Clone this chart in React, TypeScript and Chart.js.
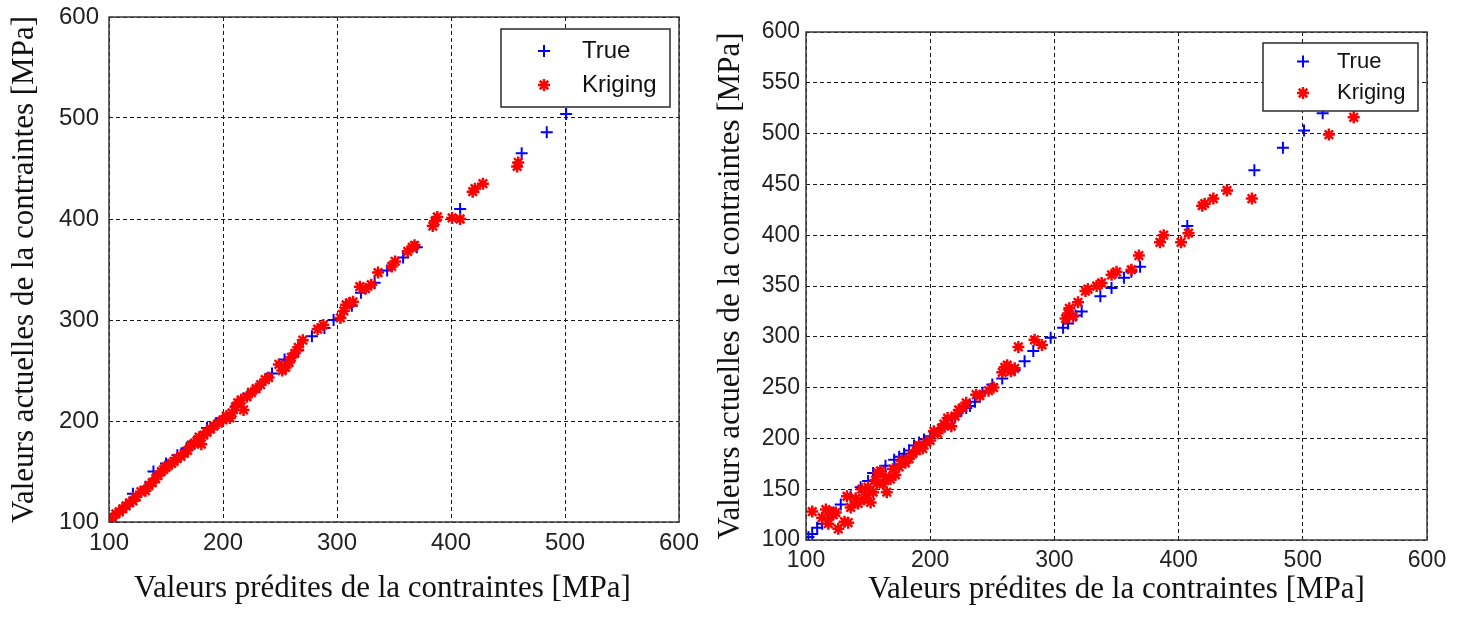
import React, { useEffect, useRef } from "react";
import { Chart, registerables } from "chart.js";

Chart.register(...registerables);

// ---------- tick labels / texts ----------
const xTicks = [100, 200, 300, 400, 500, 600];
const leftYTicks = [100, 200, 300, 400, 500, 600];
const rightYTicks = [100, 150, 200, 250, 300, 350, 400, 450, 500, 550, 600];
const seriesLabels = ["True", "Kriging"];
const xTitle = "Valeurs prédites de la contraintes [MPa]";
const yTitle = "Valeurs actuelles de la contraintes [MPa]";

// ---------- left chart data ----------
const leftTrueX = [100, 106, 121, 132, 139, 150, 160, 168, 175, 186, 194, 200, 212, 222, 231, 243, 254, 266, 278, 289, 297, 313, 321, 333, 344, 358, 370, 408, 462, 484, 501];
const leftTrueY = [103, 108, 128, 135, 150, 158, 166, 173, 180, 193, 198, 202, 215, 227, 234, 247, 261, 270, 284, 292, 300, 314, 327, 337, 349, 362, 372, 410, 465, 486, 504];

const leftKrigX = [103, 106, 109, 112, 115, 118, 121, 124, 128, 132, 135, 138, 141, 143, 146, 148, 150, 152, 155, 157, 160, 163, 166, 169, 172, 175, 177, 179, 181, 183, 186, 189, 192, 196, 200, 203, 206, 208, 211, 213, 216, 218, 221, 225, 229, 233, 237, 240, 249, 252, 255, 258, 260, 263, 266, 270, 283, 288, 303, 306, 308, 311, 314, 320, 325, 330, 336, 348, 351, 362, 366, 368, 384, 386, 388, 401, 408, 419, 421, 428, 458, 459];
const leftKrigY = [104, 108, 110, 113, 116, 119, 121, 125, 130, 131, 136, 139, 143, 146, 150, 152, 154, 156, 158, 160, 163, 165, 168, 171, 176, 178, 180, 184, 177, 186, 189, 192, 195, 198, 201, 205, 203, 208, 214, 218, 221, 211, 224, 228, 232, 236, 241, 243, 256, 250, 253, 258, 263, 267, 273, 280, 291, 295, 302, 309, 315, 317, 318, 333, 331, 335, 347, 353, 358, 368, 372, 374, 393, 398, 402, 401, 400, 427, 430, 435, 452, 456];

// ---------- right chart data ----------
const rightTrueX = [102, 105, 109, 113, 118, 122, 128, 136, 144, 150, 154, 160, 164, 171, 175, 179, 183, 187, 191, 195, 200, 207, 213, 218, 225, 229, 232, 236, 242, 250, 258, 268, 276, 283, 297, 307, 311, 317, 322, 337, 346, 356, 362, 369, 407, 461, 484, 501, 516];
const rightTrueY = [103, 106, 112, 116, 121, 127, 135, 143, 152, 158, 166, 168, 173, 179, 182, 185, 188, 193, 196, 199, 202, 208, 214, 220, 227, 230, 232, 236, 245, 253, 259, 267, 276, 286, 299, 309, 313, 321, 325, 340, 348, 358, 364, 369, 409, 464, 486, 503, 520];

const rightKrigX = [105, 113, 116, 118, 120, 122, 124, 126, 131, 133, 134, 136, 140, 142, 145, 147, 149, 150, 152, 154, 156, 157, 158, 160, 162, 164, 165, 168, 170, 172, 175, 177, 180, 183, 186, 189, 191, 194, 197, 200, 203, 206, 209, 211, 214, 217, 220, 223, 226, 229, 237, 240, 247, 251, 258, 260, 262, 265, 268, 271, 284, 290, 309, 311, 312, 315, 319, 325, 327, 334, 338, 346, 350, 362, 368, 385, 388, 402, 408, 419, 421, 428, 439, 459, 521, 541];
const rightKrigY = [128, 122, 130, 116, 127, 125, 127, 111, 118, 143, 117, 132, 141, 136, 150, 140, 145, 152, 137, 147, 159, 156, 166, 168, 155, 162, 147, 160, 170, 164, 172, 178, 176, 180, 185, 188, 193, 190, 196, 198, 207, 205, 210, 214, 220, 212, 222, 228, 230, 235, 243, 242, 247, 250, 265, 270, 272, 266, 269, 290, 297, 292, 318, 323, 328, 320, 334, 345, 347, 350, 353, 361, 364, 366, 380, 393, 400, 393, 402, 429, 431, 436, 444, 436, 499, 516];

const pairs = (xs: number[], ys: number[]) => xs.map((x, i) => ({ x, y: ys[i] }));

type Geo = {
  width: number;
  height: number;
  left: number;
  padTop: number;
  padRight: number;
  yWidth: number;
  xHeight: number;
  tickSize: number;
  yTickPad: number;
  xTickPad: number;
  yTitlePadTop: number;
  xTitlePadBottom: number;
  xTitleTrail: string;
  legend: { x0: number; y0: number; x1: number; y1: number; mx: number; tx: number; rows: number[]; font: number };
};

const leftGeo: Geo = {
  width: 700, height: 619, left: 0, padTop: 17, padRight: 21, yWidth: 109, xHeight: 97,
  tickSize: 24, yTickPad: 10, xTickPad: 7, yTitlePadTop: 6, xTitlePadBottom: 12, xTitleTrail: "\u00a0\u00a0\u00a0",
  legend: { x0: 501, y0: 29, x1: 670, y1: 107, mx: 544, tx: 582, rows: [51, 85], font: 24 },
};
const rightGeo: Geo = {
  width: 764, height: 619, left: 700, padTop: 32, padRight: 37, yWidth: 106, xHeight: 79,
  tickSize: 23, yTickPad: 6, xTickPad: 7, yTitlePadTop: 12, xTitlePadBottom: 11, xTitleTrail: "",
  legend: { x0: 563, y0: 43, x1: 718, y1: 111, mx: 603, tx: 637, rows: [61.5, 93], font: 22 },
};

const drawMarker = (ctx: CanvasRenderingContext2D, style: string, x: number, y: number, r: number) => {
  ctx.beginPath();
  ctx.moveTo(x - r, y);
  ctx.lineTo(x + r, y);
  ctx.moveTo(x, y - r);
  ctx.lineTo(x, y + r);
  if (style === "star") {
    const d = r * Math.SQRT1_2;
    ctx.moveTo(x - d, y - d);
    ctx.lineTo(x + d, y + d);
    ctx.moveTo(x - d, y + d);
    ctx.lineTo(x + d, y - d);
  }
  ctx.stroke();
};

const boxLegendPlugin = {
  id: "boxLegend",
  afterDraw(chart: any, _args: any, opts: any) {
    const ctx: CanvasRenderingContext2D = chart.ctx;
    const { left, right, top, bottom } = chart.chartArea;
    ctx.save();
    ctx.strokeStyle = "#3a3a3a";
    ctx.lineWidth = 1.5;
    ctx.setLineDash([]);
    ctx.strokeRect(left, top, right - left, bottom - top);

    const lg = opts.legend;
    if (lg) {
      ctx.fillStyle = "#ffffff";
      ctx.fillRect(lg.x0, lg.y0, lg.x1 - lg.x0, lg.y1 - lg.y0);
      ctx.strokeStyle = "#2a2a2a";
      ctx.lineWidth = 1.5;
      ctx.strokeRect(lg.x0, lg.y0, lg.x1 - lg.x0, lg.y1 - lg.y0);
      chart.data.datasets.forEach((ds: any, i: number) => {
        const y = lg.rows[i];
        ctx.strokeStyle = ds.borderColor;
        ctx.lineWidth = ds.pointBorderWidth;
        drawMarker(ctx, ds.pointStyle, lg.mx, y, 6);
        ctx.fillStyle = "#111111";
        ctx.font = `${lg.font}px "Liberation Sans", Arial, sans-serif`;
        ctx.textAlign = "left";
        ctx.textBaseline = "middle";
        ctx.fillText(ds.label, lg.tx, y);
      });
    }
    ctx.restore();
  },
};

function makeConfig(geo: Geo, trueX: number[], trueY: number[], krigX: number[], krigY: number[], yTicks: number[]): any {
  const tickFont = { family: '"Liberation Sans", Arial, sans-serif', size: geo.tickSize };
  const titleFont = { family: '"Liberation Serif", "Times New Roman", serif', size: 31 };
  const gridCommon = { color: "#1a1a1a", lineWidth: 1, drawTicks: false };
  const borderCommon = { display: false, dash: [4, 3] };
  return {
    type: "scatter",
    data: {
      datasets: [
        {
          label: seriesLabels[0],
          data: pairs(trueX, trueY),
          pointStyle: "cross",
          pointRadius: 6,
          pointBorderWidth: 2,
          borderColor: "#0000ff",
          backgroundColor: "#0000ff",
          order: 1,
        },
        {
          label: seriesLabels[1],
          data: pairs(krigX, krigY),
          pointStyle: "star",
          pointRadius: 6,
          pointBorderWidth: 2.5,
          borderColor: "#ff0000",
          backgroundColor: "#ff0000",
          order: 0,
        },
      ],
    },
    options: {
      responsive: false,
      animation: false,
      events: [],
      layout: { padding: { left: 0, top: geo.padTop, right: geo.padRight, bottom: 0 } },
      plugins: {
        legend: { display: false },
        tooltip: { enabled: false },
        boxLegend: { legend: geo.legend },
      },
      scales: {
        x: {
          type: "linear",
          min: 100,
          max: 600,
          afterBuildTicks: (s: any) => {
            s.ticks = xTicks.map((v) => ({ value: v }));
          },
          afterFit: (s: any) => {
            s.height = geo.xHeight;
            s.paddingLeft = 0;
            s.paddingRight = 0;
          },
          grid: gridCommon,
          border: borderCommon,
          ticks: { font: tickFont, color: "#222222", padding: geo.xTickPad, maxRotation: 0, autoSkip: false, callback: (v: any) => String(v) },
          title: { display: true, text: xTitle + geo.xTitleTrail, font: titleFont, color: "#111111", padding: { top: 0, bottom: geo.xTitlePadBottom } },
        },
        y: {
          type: "linear",
          min: 100,
          max: 600,
          afterBuildTicks: (s: any) => {
            s.ticks = yTicks.map((v) => ({ value: v }));
          },
          afterFit: (s: any) => {
            s.width = geo.yWidth;
            s.paddingTop = 0;
            s.paddingBottom = 0;
          },
          grid: gridCommon,
          border: borderCommon,
          ticks: { font: tickFont, color: "#222222", padding: geo.yTickPad, autoSkip: false, callback: (v: any) => String(v) },
          title: { display: true, text: yTitle, font: titleFont, color: "#111111", padding: { top: geo.yTitlePadTop, bottom: 0 } },
        },
      },
    },
    plugins: [boxLegendPlugin],
  };
}

function Plot({ geo, trueX, trueY, krigX, krigY, yTicks }: { geo: Geo; trueX: number[]; trueY: number[]; krigX: number[]; krigY: number[]; yTicks: number[] }) {
  const ref = useRef<HTMLCanvasElement | null>(null);
  useEffect(() => {
    if (!ref.current) return;
    const chart = new Chart(ref.current, makeConfig(geo, trueX, trueY, krigX, krigY, yTicks));
    return () => chart.destroy();
  }, []);
  return (
    <div style={{ position: "absolute", left: geo.left, top: 0, width: geo.width, height: geo.height }}>
      <canvas ref={ref} width={geo.width} height={geo.height} style={{ width: geo.width, height: geo.height, display: "block" }} />
    </div>
  );
}

export default function App() {
  return (
    <div style={{ position: "absolute", left: 0, top: 0, width: 1464, height: 619, background: "#ffffff", overflow: "hidden" }}>
      <Plot geo={leftGeo} trueX={leftTrueX} trueY={leftTrueY} krigX={leftKrigX} krigY={leftKrigY} yTicks={leftYTicks} />
      <Plot geo={rightGeo} trueX={rightTrueX} trueY={rightTrueY} krigX={rightKrigX} krigY={rightKrigY} yTicks={rightYTicks} />
    </div>
  );
}
